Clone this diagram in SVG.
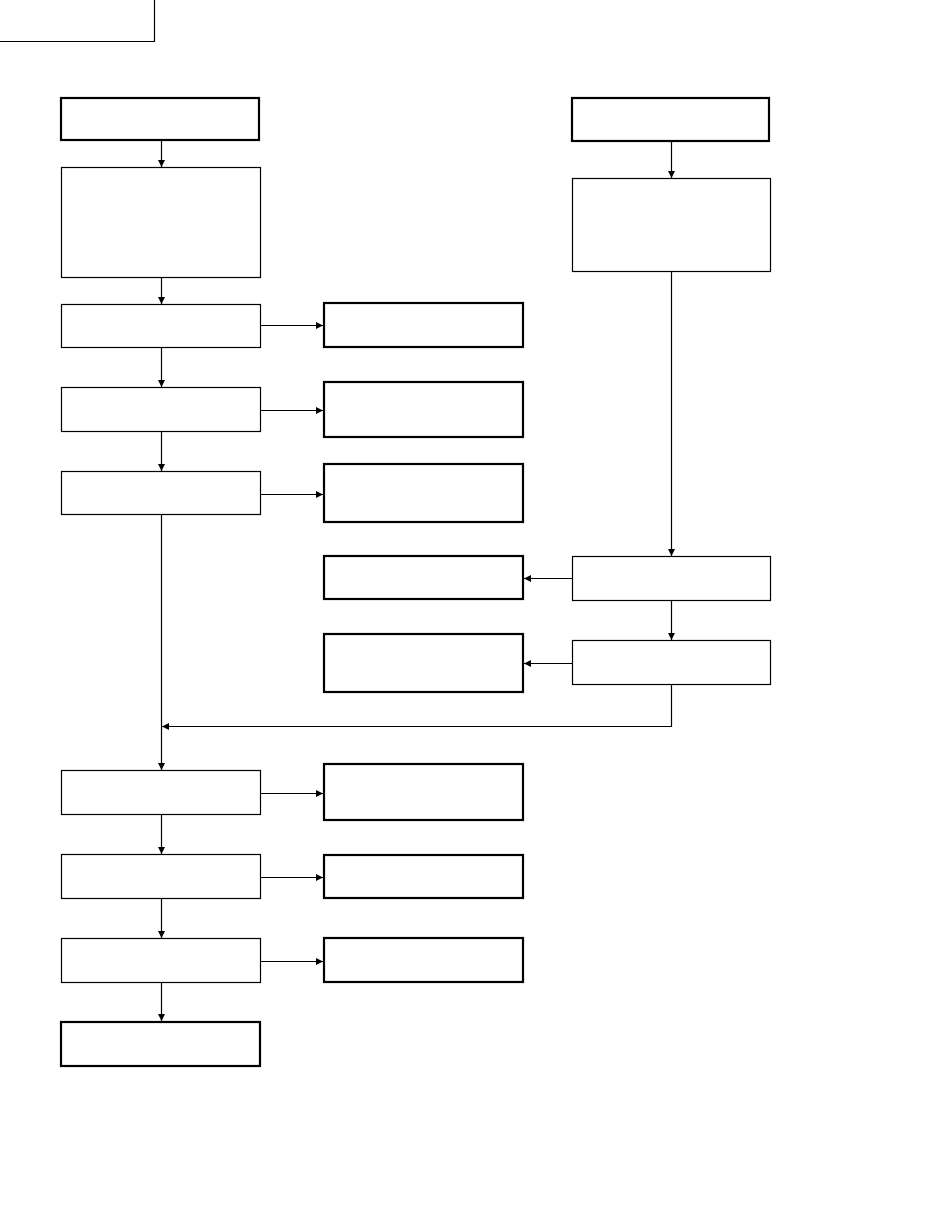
<svg xmlns="http://www.w3.org/2000/svg" width="950" height="1229" viewBox="0 0 950 1229">
<style>
.thin{fill:#fff;stroke:#000;stroke-width:1.2}
.thick{fill:#fff;stroke:#000;stroke-width:2.2}
.c{fill:none;stroke:#000;stroke-width:1.2}
</style>
<defs>
<marker id="ah" markerUnits="userSpaceOnUse" markerWidth="8" markerHeight="8" refX="7" refY="3.5" orient="auto">
<path d="M0,0 L7,3.5 L0,7 z" fill="#000"/>
</marker>
</defs>
<rect width="950" height="1229" fill="#fff"/>
<polyline class="c" points="0,41.5 154.5,41.5 154.5,0"/>
<g id="connectors">
<line class="c" x1="161.5" y1="141" x2="161.5" y2="167" marker-end="url(#ah)"/>
<line class="c" x1="161.5" y1="278" x2="161.5" y2="304" marker-end="url(#ah)"/>
<line class="c" x1="161.5" y1="348" x2="161.5" y2="387" marker-end="url(#ah)"/>
<line class="c" x1="161.5" y1="432" x2="161.5" y2="471" marker-end="url(#ah)"/>
<line class="c" x1="161.5" y1="515" x2="161.5" y2="770" marker-end="url(#ah)"/>
<line class="c" x1="161.5" y1="815" x2="161.5" y2="854" marker-end="url(#ah)"/>
<line class="c" x1="161.5" y1="899" x2="161.5" y2="938" marker-end="url(#ah)"/>
<line class="c" x1="161.5" y1="983" x2="161.5" y2="1021" marker-end="url(#ah)"/>
<line class="c" x1="261" y1="325.5" x2="323" y2="325.5" marker-end="url(#ah)"/>
<line class="c" x1="261" y1="410.5" x2="323" y2="410.5" marker-end="url(#ah)"/>
<line class="c" x1="261" y1="494.5" x2="323" y2="494.5" marker-end="url(#ah)"/>
<line class="c" x1="261" y1="793.5" x2="323" y2="793.5" marker-end="url(#ah)"/>
<line class="c" x1="261" y1="877.5" x2="323" y2="877.5" marker-end="url(#ah)"/>
<line class="c" x1="261" y1="961.5" x2="323" y2="961.5" marker-end="url(#ah)"/>
<line class="c" x1="671.5" y1="142" x2="671.5" y2="178" marker-end="url(#ah)"/>
<line class="c" x1="671.5" y1="272" x2="671.5" y2="556" marker-end="url(#ah)"/>
<line class="c" x1="671.5" y1="601" x2="671.5" y2="640" marker-end="url(#ah)"/>
<line class="c" x1="572" y1="578.5" x2="524" y2="578.5" marker-end="url(#ah)"/>
<line class="c" x1="572" y1="663.5" x2="524" y2="663.5" marker-end="url(#ah)"/>
<polyline class="c" points="671.5,685 671.5,726.5 162,726.5" marker-end="url(#ah)"/>
</g>
<g id="n1"><rect class="thick" x="61" y="98" width="198" height="42"/></g>
<g id="n2"><rect class="thin" x="61.5" y="167.5" width="199" height="110"/></g>
<g id="n3"><rect class="thin" x="61.5" y="304.5" width="199" height="43"/></g>
<g id="n4"><rect class="thin" x="61.5" y="387.5" width="199" height="44"/></g>
<g id="n5"><rect class="thin" x="61.5" y="471.5" width="199" height="43"/></g>
<g id="n6"><rect class="thin" x="61.5" y="770.5" width="199" height="44"/></g>
<g id="n7"><rect class="thin" x="61.5" y="854.5" width="199" height="44"/></g>
<g id="n8"><rect class="thin" x="61.5" y="938.5" width="199" height="44"/></g>
<g id="n9"><rect class="thick" x="61" y="1022" width="199" height="44"/></g>
<g id="r1"><rect class="thick" x="324" y="303" width="199" height="44"/></g>
<g id="r2"><rect class="thick" x="324" y="382" width="199" height="55"/></g>
<g id="r3"><rect class="thick" x="324" y="464" width="199" height="58"/></g>
<g id="r4"><rect class="thick" x="324" y="556" width="199" height="43"/></g>
<g id="r5"><rect class="thick" x="324" y="634" width="199" height="58"/></g>
<g id="r6"><rect class="thick" x="324" y="764" width="199" height="56"/></g>
<g id="r7"><rect class="thick" x="324" y="855" width="199" height="43"/></g>
<g id="r8"><rect class="thick" x="324" y="938" width="199" height="44"/></g>
<g id="t1"><rect class="thick" x="572" y="98" width="197" height="43"/></g>
<g id="t2"><rect class="thin" x="572.5" y="178.5" width="198" height="93"/></g>
<g id="t3"><rect class="thin" x="572.5" y="556.5" width="198" height="44"/></g>
<g id="t4"><rect class="thin" x="572.5" y="640.5" width="198" height="44"/></g>
</svg>
